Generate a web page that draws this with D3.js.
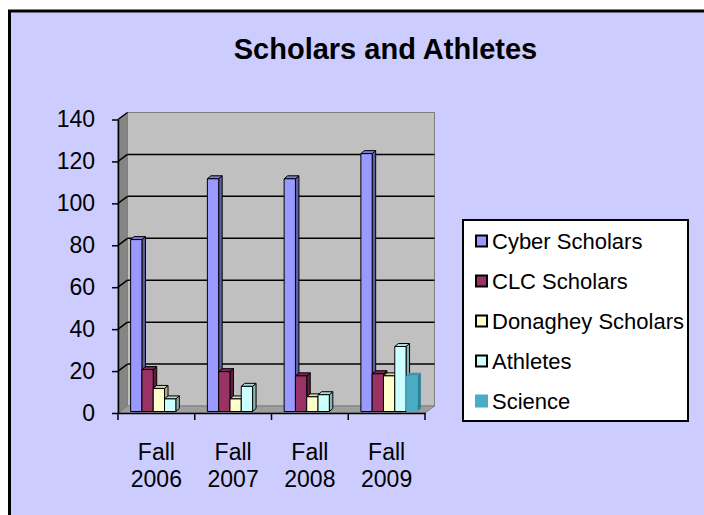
<!DOCTYPE html>
<html>
<head>
<meta charset="utf-8">
<script src="https://cdn.jsdelivr.net/npm/d3@7"></script>
<style>
  html, body { margin: 0; padding: 0; background: #ffffff; }
  svg { display: block; font-family: "Liberation Sans", Arial, sans-serif; }
</style>
</head>
<body>
<svg id="chart" width="704" height="515"></svg>
<script>
// ---- data ----
const categories = ["Fall 2006", "Fall 2007", "Fall 2008", "Fall 2009"];
const seriesNames = ["Cyber Scholars", "CLC Scholars", "Donaghey Scholars", "Athletes", "Science"];
const cyber    = [82, 111, 111, 123];
const clc      = [20, 19, 17, 18];
const donaghey = [11, 6, 7, 17];
const athletes = [6, 12, 8, 31];
const science  = [0, 0, 0, 17];
const yTicks   = [0, 20, 40, 60, 80, 100, 120, 140];
const seriesValues = [cyber, clc, donaghey, athletes, science];

// ---- styles ----
const fronts = ["#9999FF", "#993366", "#FFFFCC", "#CCFFFF", "#4BACC6"];
const sides  = ["#5f5fa6", "#5e1f3f", "#b0b08a", "#8cb3b3", "#2f7f95"];
const tops   = ["#7d7dd6", "#7a2850", "#d8d8a8", "#a8dede", "#3c95ad"];
const outlined = [true, true, true, true, false];

const svg = d3.select("#chart");

// outer frame
svg.append("rect").attr("x", 9.5).attr("y", 11).attr("width", 720).attr("height", 530)
  .attr("fill", "#CCCCFF").attr("stroke", "#000").attr("stroke-width", 3);

// title
svg.append("text").attr("x", 385.5).attr("y", 59).attr("text-anchor", "middle")
  .attr("font-size", 29).attr("font-weight", "bold").attr("fill", "#000")
  .text("Scholars and Athletes");

// ---- geometry ----
const X0 = 118, X1 = 425;
const DX = 9.5, DY = -7;         // wall depth offset
const x = d3.scaleBand().domain(categories).range([X0, X1]);
const y = d3.scaleLinear().domain([0, 140]).range([413, 119.5]);
const bw = x.bandwidth();
const groupW = 56.5;
const xs = d3.scaleBand().domain(d3.range(seriesNames.length))
  .range([(bw - groupW) / 2, (bw + groupW) / 2]);
const barShiftX = 2.5, barShiftY = -1.5;  // bar front plane depth
const bdx = 3.5, bdy = -3;                // bar depth

// side wall
const yTop = y(140), yBot = y(0);
svg.append("polygon")
  .attr("points", [[X0, yTop], [X0 + DX, yTop + DY], [X0 + DX, yBot + DY], [X0, yBot]].join(" "))
  .attr("fill", "#858585").attr("stroke", "#666").attr("stroke-width", 1);
// back wall
svg.append("rect").attr("x", X0 + DX).attr("y", yTop + DY)
  .attr("width", X1 - X0).attr("height", yBot - yTop)
  .attr("fill", "#C0C0C0").attr("stroke", "#808080").attr("stroke-width", 1);
// floor
svg.append("polygon")
  .attr("points", [[X0, yBot], [X0 + DX, yBot + DY], [X1 + DX, yBot + DY], [X1, yBot]].join(" "))
  .attr("fill", "#9e9e9e").attr("stroke", "#808080").attr("stroke-width", 1);

// gridlines
const grid = svg.append("g").attr("stroke", "#000").attr("stroke-width", 1.5);
yTicks.filter(v => v > 0 && v < 140).forEach(v => {
  grid.append("line").attr("x1", X0 + DX).attr("x2", X1 + DX)
    .attr("y1", y(v) + DY).attr("y2", y(v) + DY);
});
yTicks.filter(v => v > 0).forEach(v => {
  grid.append("line").attr("x1", X0).attr("x2", X0 + DX)
    .attr("y1", y(v)).attr("y2", y(v) + DY);
});

// bars
const bars = svg.append("g");
categories.forEach((c, ci) => {
  seriesValues.forEach((vals, si) => {
    const v = vals[ci];
    if (!v) return;
    const bx = x(c) + xs(si) + barShiftX;
    const w = xs.bandwidth();
    const t = y(v) + barShiftY, b = y(0) + barShiftY;
    const g = bars.append("g")
      .attr("stroke", outlined[si] ? "#000" : "none")
      .attr("stroke-width", 1).attr("stroke-linejoin", "round");
    g.append("polygon")
      .attr("points", [[bx + w, t], [bx + w + bdx, t + bdy], [bx + w + bdx, b + bdy], [bx + w, b]].join(" "))
      .attr("fill", sides[si]);
    g.append("polygon")
      .attr("points", [[bx, t], [bx + bdx, t + bdy], [bx + w + bdx, t + bdy], [bx + w, t]].join(" "))
      .attr("fill", tops[si]);
    g.append("rect").attr("x", bx).attr("y", t).attr("width", w).attr("height", b - t)
      .attr("fill", fronts[si]);
  });
});

// y axis
const yAxis = d3.axisLeft(y).tickValues(yTicks).tickSize(6).tickSizeOuter(0).tickPadding(17);
const yg = svg.append("g").attr("transform", `translate(${X0},0)`).call(yAxis);
yg.select(".domain").attr("stroke", "#000").attr("stroke-width", 1.5);
yg.selectAll(".tick line").attr("stroke", "#000").attr("stroke-width", 1.5);
yg.selectAll(".tick text").attr("font-size", 23).attr("fill", "#000")
  .attr("font-family", "Liberation Sans, Arial, sans-serif");

// x axis
const xAxis = d3.axisBottom(x).tickSize(0).tickSizeOuter(0).tickFormat("");
const xg = svg.append("g").attr("transform", `translate(0,${yBot})`).call(xAxis);
xg.select(".domain").attr("stroke", "#000").attr("stroke-width", 1.5);
const bounds = categories.map(c => x(c)).concat([X1]);
bounds.forEach(bx => {
  xg.append("line").attr("x1", bx).attr("x2", bx).attr("y1", 0).attr("y2", 7)
    .attr("stroke", "#000").attr("stroke-width", 1.5);
});
categories.forEach(c => {
  const parts = c.split(" ");
  const t = svg.append("text").attr("text-anchor", "middle").attr("font-size", 23).attr("fill", "#000");
  t.append("tspan").attr("x", x(c) + bw / 2).attr("y", 460).text(parts[0]);
  t.append("tspan").attr("x", x(c) + bw / 2).attr("y", 487).text(parts[1]);
});

// legend
const lg = svg.append("g");
lg.append("rect").attr("x", 463).attr("y", 220).attr("width", 225).attr("height", 201)
  .attr("fill", "#fff").attr("stroke", "#000").attr("stroke-width", 2);
seriesNames.forEach((n, i) => {
  const cy = 241 + i * 40;
  if (outlined[i]) {
    lg.append("rect").attr("x", 476).attr("y", cy - 5.5).attr("width", 11).attr("height", 11)
      .attr("fill", fronts[i]).attr("stroke", "#000").attr("stroke-width", 2);
  } else {
    lg.append("rect").attr("x", 475).attr("y", cy - 6.5).attr("width", 13).attr("height", 13)
      .attr("fill", fronts[i]);
  }
  lg.append("text").attr("x", 492).attr("y", cy + 8).attr("font-size", 22).attr("fill", "#000").text(n);
});
</script>
</body>
</html>
